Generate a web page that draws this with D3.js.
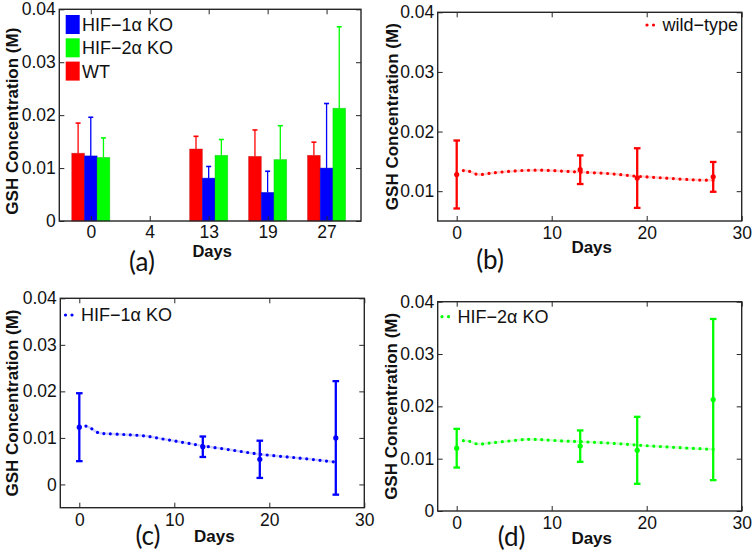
<!DOCTYPE html>
<html><head><meta charset="utf-8">
<script src="https://cdn.jsdelivr.net/npm/d3@7"></script>
<style>body{margin:0;background:#fff}</style>
</head><body>
<svg id="chart" width="756" height="555"></svg>
<script>
// ---------- data ----------
const days = [0, 13, 19, 27];
const barCategories = ["0", "4", "13", "19", "27"];
const wtMean   = [0.0128, 0.0136, 0.0122, 0.0124];
const wtErr    = [0.0057, 0.0024, 0.0050, 0.0025];
const hif1Mean = [0.0123, 0.0081, 0.0054, 0.0100];
const hif1Err  = [0.0073, 0.0022, 0.0040, 0.0122];
const hif2Mean = [0.0120, 0.0124, 0.0116, 0.0213];
const hif2Err  = [0.0037, 0.0030, 0.0064, 0.0154];

const wtFitDays   = [0.7, 1.2, 2.2, 3.5, 5, 7, 9, 11, 13, 16, 19, 22, 25, 27];
const wtFitVals   = [0.01345, 0.0134, 0.0128, 0.0130, 0.01325, 0.01348, 0.01352, 0.01338, 0.0132, 0.01295, 0.0125, 0.0122, 0.0119, 0.01183];
const hif1FitDays = [0.7, 1.2, 2, 3, 5, 7, 9, 11, 13, 16, 19, 23, 27];
const hif1FitVals = [0.01254, 0.0121, 0.0111, 0.0109, 0.0107, 0.0104, 0.0097, 0.0090, 0.0083, 0.0074, 0.0065, 0.0057, 0.0048];
const hif2FitDays = [0.7, 1.2, 2.2, 3.5, 5.5, 7.5, 9, 11, 13, 16.5, 20, 23.5, 27];
const hif2FitVals = [0.01344, 0.0134, 0.0128, 0.0130, 0.01338, 0.0137, 0.01362, 0.0134, 0.01325, 0.01293, 0.01248, 0.0121, 0.01178];

const xTicksDays = [0, 10, 20, 30];
const yTicks4  = [0, 0.01, 0.02, 0.03, 0.04];
const yTicksB  = [0.01, 0.02, 0.03, 0.04];

const seriesNames = ["WT", "HIF−1α KO", "HIF−2α KO"];
const lineLegendNames = ["wild−type", "HIF−1α KO", "HIF−2α KO"];
const colors = {wt: "#ff0000", hif1: "#0000ff", hif2: "#00ff00"};

// ---------- helpers ----------
const svg = d3.select("#chart");
const FONT = "'Liberation Sans', Arial, Helvetica, sans-serif";
const fmt = d => d === 0 ? "0" : d3.format(".2f")(d);

function makePanel(p) {
  const x = d3.scaleLinear().domain(p.xDomain).range([p.x0, p.x1]);
  const y = d3.scaleLinear().domain(p.yDomain).range([p.y1, p.y0]);
  const g = svg.append("g");
  const plot = g.append("g");
  const ax = g.append("g");
  function style(sel) {
    sel.select(".domain").remove();
    sel.selectAll(".tick line").attr("stroke", "#262626").attr("stroke-width", 1);
    sel.selectAll(".tick text").attr("font-family", FONT).attr("font-size", 17.5).attr("fill", "#111");
  }
  ax.append("g").attr("transform", `translate(0,${p.y1})`)
    .call(d3.axisBottom(x).tickValues(p.xTicks).tickFormat(p.xFmt).tickSize(-5).tickPadding(p.xPad || 6)).call(style);
  ax.append("g").attr("transform", `translate(0,${p.y0})`)
    .call(d3.axisTop(x).tickValues(p.xTicks).tickFormat("").tickSize(-5)).call(style);
  ax.append("g").attr("transform", `translate(${p.x0},0)`)
    .call(d3.axisLeft(y).tickValues(p.yTicks).tickFormat(fmt).tickSize(-5).tickPadding(3.5)).call(style);
  ax.append("g").attr("transform", `translate(${p.x1},0)`)
    .call(d3.axisRight(y).tickValues(p.yTicks).tickFormat("").tickSize(-5)).call(style);
  ax.append("rect").attr("x", p.x0).attr("y", p.y0).attr("width", p.x1 - p.x0).attr("height", p.y1 - p.y0)
    .attr("fill", "none").attr("stroke", "#262626").attr("stroke-width", 1.4);
  // y label
  const cy = (p.y0 + p.y1) / 2 + (p.yLabelShift || 0);
  g.append("text").attr("transform", `translate(${p.yLabelX},${cy}) rotate(-90)`)
    .attr("text-anchor", "middle").attr("font-family", FONT).attr("font-weight", "bold")
    .attr("font-size", 17).attr("fill", "#111").text("GSH Concentration (M)");
  // x label
  g.append("text").attr("x", (p.x0 + p.x1) / 2 + 2).attr("y", p.xLabelY)
    .attr("text-anchor", "middle").attr("font-family", FONT).attr("font-weight", "bold")
    .attr("font-size", p.xLabelSize || 17).attr("fill", "#111").text("Days");
  // panel letter
  g.append("text").attr("x", p.letterX).attr("y", p.letterY)
    .attr("text-anchor", "middle").attr("font-family", "Lato, 'Open Sans', sans-serif")
    .attr("font-size", 26).attr("fill", "#111").text(p.letter);
  return {x, y, plot, g};
}

// ---------- panel (a) : grouped bars ----------
const pa = makePanel({x0: 59.3, x1: 361, y0: 9.3, y1: 221,
  xDomain: [0.466, 5.584], yDomain: [0, 0.04],
  xTicks: barCategories.map((c, i) => i + 1), xFmt: (d) => barCategories[d - 1], xPad: 5,
  yTicks: yTicks4, yLabelX: 17.5, yLabelShift: 6, xLabelY: 257, xLabelSize: 16.5,
  letter: "(a)", letterX: 142, letterY: 271});

const barW = 0.215;
const barSeries = [
  {mean: wtMean, err: wtErr, color: colors.wt, off: -1},
  {mean: hif1Mean, err: hif1Err, color: colors.hif1, off: 0},
  {mean: hif2Mean, err: hif2Err, color: colors.hif2, off: 1}
];
barSeries.forEach(s => {
  const data = days.map((d, i) => ({pos: barCategories.indexOf(String(d)) + 1, m: s.mean[i], e: s.err[i]}));
  const gg = pa.plot.append("g");
  gg.selectAll("rect").data(data).join("rect")
    .attr("x", d => pa.x(d.pos + s.off * barW - barW / 2))
    .attr("width", d => pa.x(d.pos + barW / 2) - pa.x(d.pos - barW / 2))
    .attr("y", d => pa.y(d.m)).attr("height", d => pa.y(0) - pa.y(d.m))
    .attr("fill", s.color).attr("stroke", d3.color(s.color).darker(0.8)).attr("stroke-opacity", 0.5).attr("stroke-width", 0.8);
  gg.selectAll("line.e").data(data).join("line").attr("class", "e")
    .attr("x1", d => pa.x(d.pos + s.off * barW)).attr("x2", d => pa.x(d.pos + s.off * barW))
    .attr("y1", d => pa.y(d.m)).attr("y2", d => pa.y(d.m + d.e))
    .attr("stroke", s.color).attr("stroke-width", 1.3);
  gg.selectAll("line.c").data(data).join("line").attr("class", "c")
    .attr("x1", d => pa.x(d.pos + s.off * barW) - 2.5).attr("x2", d => pa.x(d.pos + s.off * barW) + 2.5)
    .attr("y1", d => pa.y(d.m + d.e)).attr("y2", d => pa.y(d.m + d.e))
    .attr("stroke", s.color).attr("stroke-width", 1.6);
});
// legend (a)
const legA = [{name: seriesNames[1], color: colors.hif1}, {name: seriesNames[2], color: colors.hif2}, {name: seriesNames[0], color: colors.wt}];
legA.forEach((l, i) => {
  const ty = 15 + i * 23.3;
  pa.g.append("rect").attr("x", 65.7).attr("y", ty).attr("width", 14).attr("height", 19).attr("fill", l.color);
  pa.g.append("text").attr("x", 82).attr("y", ty + 16).attr("font-family", FONT).attr("font-size", 18)
    .attr("fill", "#111").text(l.name);
});

// ---------- line panels ----------
function linePanel(p, mean, err, fitDays, fitVals, color, legName, legX, legY) {
  const P = makePanel(Object.assign({xDomain: [-2, 30], xTicks: xTicksDays, xFmt: d3.format("d")}, p));
  const pts = fitDays.map((d, i) => [d, fitVals[i]]);
  const line = d3.line().x(d => P.x(d[0])).y(d => P.y(d[1])).curve(d3.curveCatmullRom);
  P.plot.append("path").attr("d", line(pts)).attr("fill", "none").attr("stroke", color)
    .attr("stroke-opacity", 0.18).attr("stroke-width", 2.5);
  P.plot.append("path").attr("d", line(pts)).attr("fill", "none").attr("stroke", color)
    .attr("stroke-width", 3.2).attr("stroke-linecap", "round").attr("stroke-dasharray", "0 6.6");
  const data = days.map((d, i) => ({d, m: mean[i], e: err[i]}));
  const eb = P.plot.append("g").attr("stroke", color).attr("stroke-width", 2.3);
  eb.selectAll("line.v").data(data).join("line").attr("class", "v")
    .attr("x1", d => P.x(d.d)).attr("x2", d => P.x(d.d))
    .attr("y1", d => P.y(d.m - d.e)).attr("y2", d => P.y(d.m + d.e));
  eb.selectAll("line.t").data(data).join("line").attr("class", "t")
    .attr("x1", d => P.x(d.d) - 3.3).attr("x2", d => P.x(d.d) + 3.3)
    .attr("y1", d => P.y(d.m + d.e)).attr("y2", d => P.y(d.m + d.e));
  eb.selectAll("line.b").data(data).join("line").attr("class", "b")
    .attr("x1", d => P.x(d.d) - 3.3).attr("x2", d => P.x(d.d) + 3.3)
    .attr("y1", d => P.y(d.m - d.e)).attr("y2", d => P.y(d.m - d.e));
  P.plot.selectAll("circle").data(data).join("circle")
    .attr("cx", d => P.x(d.d)).attr("cy", d => P.y(d.m)).attr("r", 2.6).attr("fill", color);
  // legend
  P.g.append("line").attr("x1", legX).attr("x2", legX + 13).attr("y1", legY).attr("y2", legY)
    .attr("stroke", color).attr("stroke-width", 3.2).attr("stroke-linecap", "round").attr("stroke-dasharray", "0 6.5");
  P.g.append("text").attr("x", legX + 15.5).attr("y", legY + 6.3).attr("font-family", FONT).attr("font-size", 18)
    .attr("fill", "#111").text(legName);
  return P;
}

linePanel({x0: 437.7, x1: 741.7, y0: 12.3, y1: 221, yDomain: [0.005, 0.04], yTicks: yTicksB,
  yLabelX: 398, yLabelShift: 0, xLabelY: 253, letter: "(b)", letterX: 490, letterY: 269},
  wtMean, wtErr, wtFitDays, wtFitVals, colors.wt, lineLegendNames[0], 647, 25);
linePanel({x0: 60.3, x1: 364.3, y0: 298.3, y1: 507.7, yDomain: [-0.005, 0.04], yTicks: yTicks4,
  yLabelX: 17.5, yLabelShift: 0, xLabelY: 542, letter: "(c)", letterX: 148, letterY: 545},
  hif1Mean, hif1Err, hif1FitDays, hif1FitVals, colors.hif1, lineLegendNames[1], 65.5, 315);
linePanel({x0: 437.7, x1: 741.7, y0: 301.7, y1: 511, yDomain: [0, 0.04], yTicks: yTicks4,
  yLabelX: 397, yLabelShift: 0, xLabelY: 544, letter: "(d)", letterX: 511.7, letterY: 546},
  hif2Mean, hif2Err, hif2FitDays, hif2FitVals, colors.hif2, lineLegendNames[2], 442, 316.7);
</script>
</body></html>
